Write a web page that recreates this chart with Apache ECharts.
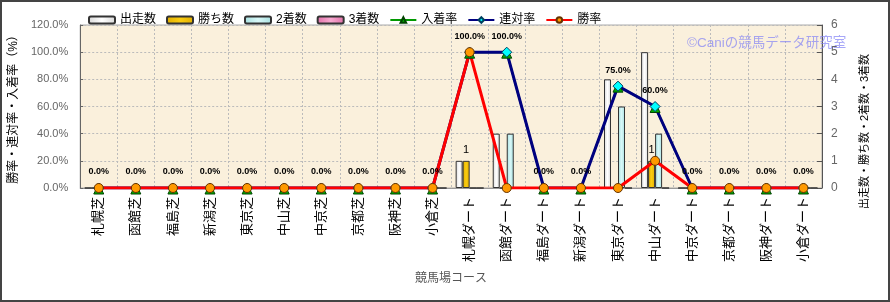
<!DOCTYPE html>
<html><head><meta charset="utf-8">
<script src="https://cdn.jsdelivr.net/npm/echarts@6/dist/echarts.min.js"></script>
<style>html,body{margin:0;padding:0;background:#fff}#c{width:890px;height:302px}</style>
</head><body><div id="c"></div>
<script>
const categories = ['札幌芝','函館芝','福島芝','新潟芝','東京芝','中山芝','中京芝','京都芝','阪神芝','小倉芝',
  '札幌ダート','函館ダート','福島ダート','新潟ダート','東京ダート','中山ダート','中京ダート','京都ダート','阪神ダート','小倉ダート'];
const starts  = [0,0,0,0,0,0,0,0,0,0, 1,2,0,0,4,5,0,0,0,0];
const wins    = [0,0,0,0,0,0,0,0,0,0, 1,0,0,0,0,1,0,0,0,0];
const seconds = [0,0,0,0,0,0,0,0,0,0, 0,2,0,0,3,2,0,0,0,0];
const thirds  = [0,0,0,0,0,0,0,0,0,0, 0,0,0,0,0,0,0,0,0,0];
const placeRate = [0,0,0,0,0,0,0,0,0,0, 100,100,0,0,75,60,0,0,0,0];
const quinellaRate = [0,0,0,0,0,0,0,0,0,0, 100,100,0,0,75,60,0,0,0,0];
const winRate = [0,0,0,0,0,0,0,0,0,0, 100,0,0,0,0,20,0,0,0,0];
const pctTicks = {min:0, max:120, interval:20};
const cntTicks = {min:0, max:6, interval:1};

const F = 'Liberation Sans, "Noto Sans CJK JP", sans-serif';
const chart = echarts.init(document.getElementById('c'), null, {renderer:'canvas'});
function grad(c1, c2){
  return new echarts.graphic.LinearGradient(0,0,1,0,[{offset:0,color:c1},{offset:0.5,color:c2},{offset:1,color:c1}]);
}
const barBase = {type:'bar', yAxisIndex:1, barWidth:7, barGap:'0%'};
chart.setOption({
  animation:false,
  textStyle:{fontFamily:F},
  graphic:[
    {type:'rect', z:100, silent:true, shape:{x:1,y:1,width:888,height:300}, style:{fill:'none', stroke:'#444', lineWidth:2}},
    {type:'text', z:100, left:687, top:37, style:{text:'©Caniの競馬データ研究室', fill:'rgba(130,130,245,0.7)', font:'13.5px '+F}}
  ],
  legend:{
    left:83, top:9, itemWidth:26, itemHeight:7, itemGap:10,
    textStyle:{fontSize:12, color:'#000', fontFamily:F},
    data:['出走数','勝ち数','2着数','3着数','入着率','連対率','勝率']
  },
  grid:{left:77, right:68, top:25, bottom:114, show:true, backgroundColor:'#FAF0DC', borderColor:'#AAA', borderWidth:1},
  xAxis:{
    type:'category', data:categories,
    name:'競馬場コース', nameLocation:'middle', nameGap:85,
    nameTextStyle:{fontSize:12, color:'#555', fontFamily:F},
    axisLine:{lineStyle:{color:'#999'}},
    axisTick:{show:false},
    axisLabel:{rotate:90, fontSize:13, color:'#000', margin:9, fontFamily:F, interval:0},
    splitLine:{show:true, interval:0, lineStyle:{color:'#BBB', type:[2,2]}}
  },
  yAxis:[
    {type:'value', min:pctTicks.min, max:pctTicks.max, interval:pctTicks.interval, position:'left',
     name:'勝率・連対率・入着率（%）', nameLocation:'middle', nameGap:54, nameRotate:90,
     nameTextStyle:{fontSize:12, color:'#000', fontFamily:F},
     axisLine:{show:true, lineStyle:{color:'#666'}},
     axisTick:{show:true, inside:true, length:3, lineStyle:{color:'#666'}},
     axisLabel:{fontSize:11, color:'#666', margin:12, formatter:v=>v.toFixed(1)+'%'},
     splitLine:{show:true, lineStyle:{color:'#BBB', type:[2,2]}}},
    {type:'value', min:cntTicks.min, max:cntTicks.max, interval:cntTicks.interval, position:'right',
     name:'出走数・勝ち数・2着数・3着数', nameLocation:'middle', nameGap:37, nameRotate:90,
     nameTextStyle:{fontSize:11, color:'#000', fontFamily:F, padding:[0,50,0,0]},
     axisLine:{show:true, lineStyle:{color:'#555'}},
     axisTick:{show:true, inside:true, length:5, lineStyle:{color:'#555'}},
     axisLabel:{fontSize:12, color:'#666', margin:9},
     splitLine:{show:false}}
  ],
  series:[
    Object.assign({}, barBase, {name:'出走数', data:starts,
      itemStyle:{color:grad('#D8D8D8','#FFFFFF'), borderColor:'#333', borderWidth:1}}),
    Object.assign({}, barBase, {name:'勝ち数', data:wins,
      itemStyle:{color:grad('#E0AE00','#FACC10'), borderColor:'#333', borderWidth:1},
      label:{show:true, position:'top', distance:5, fontSize:11, color:'#000', formatter:p=>p.value>0?String(p.value):''}}),
    Object.assign({}, barBase, {name:'2着数', data:seconds,
      itemStyle:{color:grad('#A8E0E0','#D8F8F8'), borderColor:'#333', borderWidth:1}}),
    Object.assign({}, barBase, {name:'3着数', data:thirds,
      itemStyle:{color:grad('#E070A8','#F8A8D0'), borderColor:'#333', borderWidth:1}}),
    {type:'line', name:'入着率', yAxisIndex:0, data:placeRate,
      symbol:'triangle', symbolSize:10, symbolOffset:[0,1], lineStyle:{color:'#009900', width:2},
      itemStyle:{color:'#00AA00', borderColor:'#004400', borderWidth:1},
      label:{show:true, position:'top', distance:7, fontSize:9, fontWeight:'bold', color:'#000', formatter:p=>p.value.toFixed(1)+'%'}},
    {type:'line', name:'連対率', yAxisIndex:0, data:quinellaRate,
      symbol:'diamond', symbolSize:10, lineStyle:{color:'#000080', width:3},
      itemStyle:{color:'#00FFFF', borderColor:'#004060', borderWidth:1}},
    {type:'line', name:'勝率', yAxisIndex:0, data:winRate,
      symbol:'circle', symbolSize:9, lineStyle:{color:'#FF0000', width:3},
      itemStyle:{color:'#FF9900', borderColor:'#663300', borderWidth:1}}
  ]
});
</script></body></html>
